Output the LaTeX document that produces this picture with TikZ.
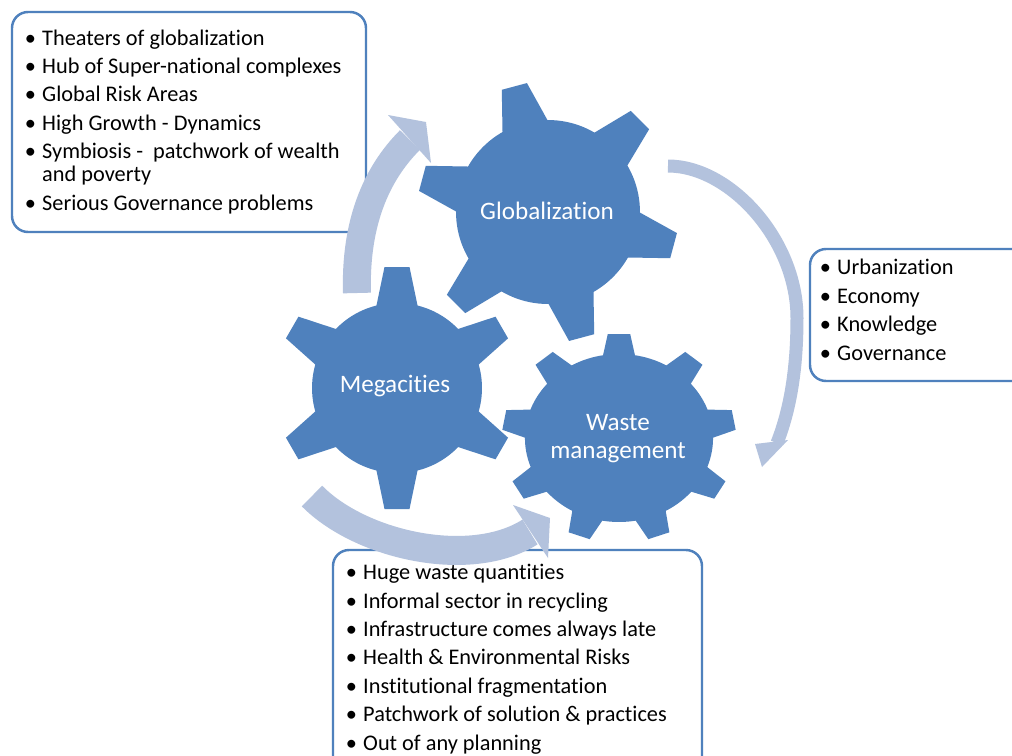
\documentclass[tikz,border=0pt]{standalone}
\usepackage{fontspec}
\setmainfont{Carlito}[Ligatures=NoCommon]
\definecolor{gearblue}{RGB}{79,129,189}
\definecolor{arrowblue}{RGB}{179,194,221}
\newcommand{\bul}{\makebox[9.9pt][l]{•}}
\newcommand{\nob}{\makebox[9.9pt][l]{}}
\begin{document}
\begin{tikzpicture}[x=0.02cm,y=-0.02cm]
\tikzset{
  boxline/.style={draw=gearblue, line width=1.4pt, fill=white, rounded corners=0.32cm},
  listtext/.style={inner sep=0pt, align=left, text=black, font=\fontsize{12.7}{16.16}\selectfont},
  geartext/.style={inner sep=0pt, text=white, align=center, font=\fontsize{14.3}{15.9}\selectfont},
  arrowline/.style={draw=arrowblue},
  headfill/.style={fill=arrowblue},
  gearfill/.style={fill=gearblue}
}
\clip (0,0) rectangle (1012,755);
\fill[white] (0,0) rectangle (1012,755);

% info boxes
\draw[boxline] (12,12) rectangle (366,232);
\draw[boxline] (810,249) rectangle (1040,381);
\draw[boxline] (333,550) rectangle (702,800);

% (multi-line nodes: base anchor = last line's baseline)
\node[listtext, anchor=base west] (tl) at (24.5,210) {%
\bul Theaters of globalization\\
\bul Hub of Super-national complexes\\
\bul Global Risk Areas\\
\bul High Growth - Dynamics\\
\bul Symbiosis -\ \ patchwork of wealth\\[-3.1pt]
\nob and poverty\\
\bul Serious Governance problems};

\node[listtext, anchor=base west] (rt) at (819.5,360) {%
\bul Urbanization\\
\bul Economy\\
\bul Knowledge\\
\bul Governance};

\node[listtext, anchor=base west] (bt) at (345.5,750) {%
\bul Huge waste quantities\\
\bul Informal sector in recycling\\
\bul Infrastructure comes always late\\
\bul Health \& Environmental Risks\\
\bul Institutional fragmentation\\
\bul Patchwork of solution \& practices\\
\bul Out of any planning};

% curved arrows
\draw[arrowline, line width=0.56cm] (357,293) .. controls (355,225) and (375,175) .. (410,140);
\fill[headfill] (388,115) -- (426,122) -- (431,163) -- cycle;

\draw[arrowline, line width=0.26cm] (668,166) .. controls (730,166) and (797,240) .. (797,318)
   .. controls (797,370) and (790,410) .. (777,443);
\fill[headfill] (755,444) -- (762,467) -- (788,440) -- cycle;

\draw[arrowline, line width=0.58cm] (312,496) .. controls (360,545) and (470,570) .. (530,532);
\fill[headfill] (513,505) -- (550,518) -- (548,558) -- cycle;

% gears
\begin{scope}[shift={(548,212)}]
  \fill[gearfill] (0,0) circle[radius=1.84cm];
  \foreach \a in {105,45,-15,-75,-135,165}
    \fill[gearfill, rotate=\a] (80,-25.5) -- (130,-13) -- (130,13) -- (80,25.5) -- cycle;
\end{scope}
\begin{scope}[shift={(397,388)}]
  \fill[gearfill] (0,0) circle[radius=1.70cm];
  \foreach \a in {90,30,-30,-90,-150,150}
    \fill[gearfill, rotate=\a] (75,-22.1) -- (121,-12.5) -- (121,12.5) -- (75,22.1) -- cycle;
\end{scope}
\begin{scope}[shift={(619,438)}, xscale=1.12]
  \fill[gearfill] (0,0) circle[radius=1.68cm];
  \foreach \a in {90,50,10,-30,-70,-110,-150,170,130}
    \fill[gearfill, rotate=\a] (74,-16) -- (104,-10) -- (104,10) -- (74,16) -- cycle;
\end{scope}

\node[geartext, anchor=base] (glob) at (547,219) {Globalization};
\node[geartext, anchor=base] (mega) at (395,392) {Megacities};
\node[geartext, anchor=base] (waste) at (618,458) {Waste\\management};
\end{tikzpicture}
\end{document}
